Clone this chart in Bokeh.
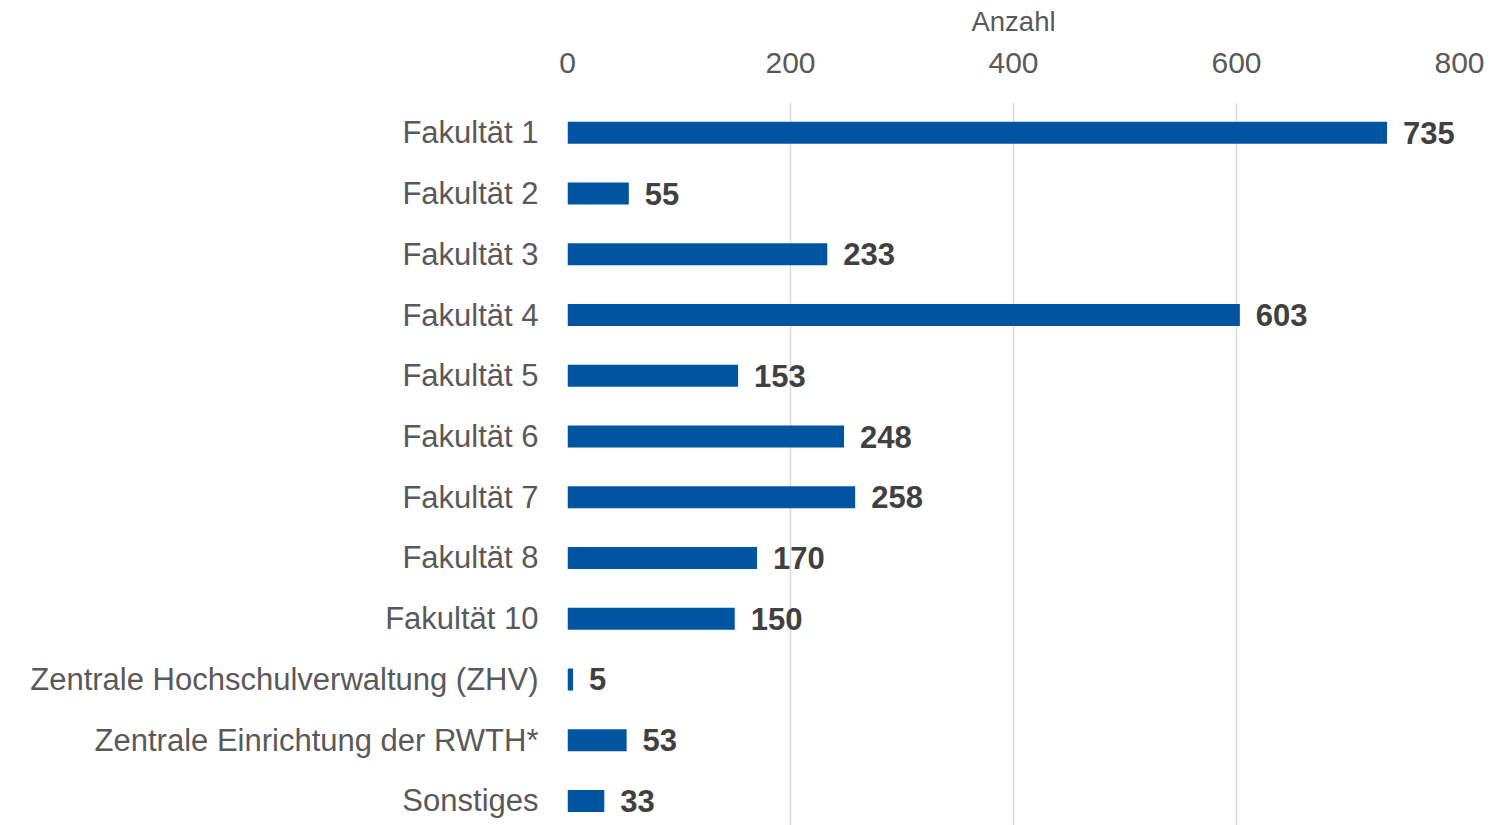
from bokeh.plotting import figure
from bokeh.models import Range1d, FixedTicker, ColumnDataSource, LinearAxis
from bokeh.embed import file_html
from bokeh.resources import INLINE
from bokeh.core.properties import value

categories = [
    "Fakultät 1", "Fakultät 2", "Fakultät 3", "Fakultät 4", "Fakultät 5",
    "Fakultät 6", "Fakultät 7", "Fakultät 8", "Fakultät 10",
    "Zentrale Hochschulverwaltung (ZHV)", "Zentrale Einrichtung der RWTH*", "Sonstiges",
]
counts = [735, 55, 233, 603, 153, 248, 258, 170, 150, 5, 53, 33]
x_ticks = [0, 200, 400, 600, 800]
axis_title = "Anzahl"

FONT = "Liberation Sans"
positions = list(range(len(categories)))
src = ColumnDataSource(dict(y=positions, v=counts, lbl=[str(c) for c in counts]))

p = figure(
    width=1503, height=825, output_backend="svg", toolbar_location=None,
    x_range=Range1d(0, 800), y_range=Range1d(11.405, -0.5),
    x_axis_location=None, y_axis_location="left",
    min_border_left=567, min_border_right=44, min_border_top=102, min_border_bottom=0,
)
p.outline_line_color = None
p.background_fill_color = "white"
p.border_fill_color = "white"

xa = LinearAxis(ticker=FixedTicker(ticks=x_ticks), axis_label=axis_title)
xa.axis_line_color = None
xa.major_tick_line_color = None
xa.minor_tick_line_color = None
xa.major_tick_out = 0
xa.major_tick_in = 0
xa.major_label_text_font = FONT
xa.major_label_text_font_size = "30px"
xa.major_label_text_color = "#595959"
xa.major_label_standoff = 30
xa.axis_label_text_font = FONT
xa.axis_label_text_font_size = "27.5px"
xa.axis_label_text_font_style = "normal"
xa.axis_label_text_color = "#595959"
xa.axis_label_standoff = 13
p.add_layout(xa, "above")

ya = p.yaxis[0]
ya.ticker = FixedTicker(ticks=positions)
ya.major_label_overrides = {i: c for i, c in zip(positions, categories)}
ya.axis_line_color = None
ya.major_tick_line_color = None
ya.minor_tick_line_color = None
ya.major_tick_out = 0
ya.major_tick_in = 0
ya.major_label_text_font = FONT
ya.major_label_text_font_size = "31px"
ya.major_label_text_color = "#595959"
ya.major_label_standoff = 29

p.xgrid.ticker = FixedTicker(ticks=x_ticks)
p.xgrid.grid_line_color = "#d9d9d9"
p.xgrid.grid_line_width = 1.5
p.ygrid.grid_line_color = None

p.hbar(y="y", left=0, right="v", height=0.362, source=src,
       fill_color="#0054A0", line_color=None)
p.text(x="v", y="y", text="lbl", source=src, x_offset=16,
       text_baseline="middle", text_align="left",
       text_font=value(FONT), text_font_size="31px", text_font_style="bold",
       text_color="#404040")

open("out.html", "w").write(file_html(p, INLINE))
